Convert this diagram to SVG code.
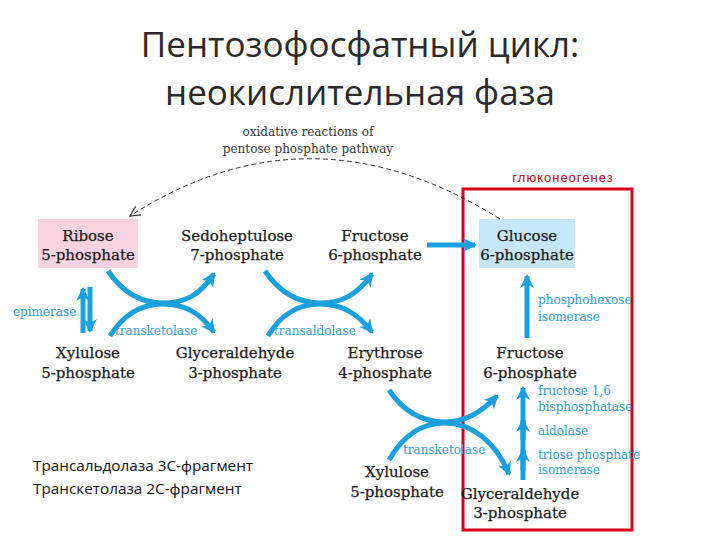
<svg xmlns="http://www.w3.org/2000/svg" width="720" height="540" viewBox="0 0 720 540">
<style>
.title{font-family:"Open Sans","Noto Sans",sans-serif;font-size:35px;fill:#2a2a2a;text-anchor:middle}
.n{font-family:"DejaVu Serif","Liberation Serif",serif;font-size:15px;fill:#1a1a1a;stroke:#1a1a1a;stroke-width:0.25;text-anchor:middle}
.e{font-family:"DejaVu Serif","Liberation Serif",serif;font-size:12px;fill:#2a9ed8}
.ox{font-family:"DejaVu Serif","Liberation Serif",serif;font-size:12px;fill:#333;text-anchor:middle}
.ru{font-family:"Open Sans","Noto Sans",sans-serif;font-size:15.3px;fill:#111}
.c{fill:none;stroke:#1aa0dc;stroke-width:5;stroke-linecap:butt}
</style>
<defs>
<marker id="ah" markerUnits="userSpaceOnUse" markerWidth="16" markerHeight="14" refX="12" refY="7" orient="auto">
<path d="M0,0 L14,7 L0,14 L4,7 Z" fill="#1aa0dc"/>
</marker>
<marker id="dh" markerUnits="userSpaceOnUse" markerWidth="12" markerHeight="12" refX="10" refY="6" orient="auto">
<path d="M0,1 L10,6 L0,11" fill="none" stroke="#333" stroke-width="1.2"/>
</marker>
</defs>
<rect width="720" height="540" fill="#fff"/>
<text class="title" x="360" y="57">Пентозофосфатный цикл:</text>
<text class="title" x="360" y="105">неокислительная фаза</text>
<text class="ox" x="308" y="136">oxidative reactions of</text>
<text class="ox" x="308" y="153">pentose phosphate pathway</text>
<g id="red-box">
<rect x="463" y="189" width="169" height="341" fill="none" stroke="#d8001a" stroke-width="3"/>
<text x="563" y="182" font-family="Liberation Sans,Arial,sans-serif" font-size="13" letter-spacing="1" fill="#c0001a" text-anchor="middle">глюконеогенез</text>
</g>
<g id="ribose"><rect x="38" y="219" width="100" height="49" fill="#f9d3df"/><text class="n" x="88" y="241">Ribose</text><text class="n" x="88" y="260">5-phosphate</text></g>
<g id="sedoheptulose"><text class="n" x="237" y="241">Sedoheptulose</text><text class="n" x="237" y="260">7-phosphate</text></g>
<g id="fructose6p-top"><text class="n" x="375" y="241">Fructose</text><text class="n" x="375" y="260">6-phosphate</text></g>
<g id="glucose"><rect x="479" y="219" width="96" height="49" fill="#c6e7f7"/><text class="n" x="527" y="241">Glucose</text><text class="n" x="527" y="260">6-phosphate</text></g>
<g id="xylulose1"><text class="n" x="88" y="358">Xylulose</text><text class="n" x="88" y="378">5-phosphate</text></g>
<g id="glyceraldehyde1"><text class="n" x="235" y="358">Glyceraldehyde</text><text class="n" x="235" y="378">3-phosphate</text></g>
<g id="erythrose"><text class="n" x="385" y="358">Erythrose</text><text class="n" x="385" y="378">4-phosphate</text></g>
<g id="fructose6p"><text class="n" x="530" y="358">Fructose</text><text class="n" x="530" y="378">6-phosphate</text></g>
<g id="xylulose2"><text class="n" x="397" y="477">Xylulose</text><text class="n" x="397" y="497">5-phosphate</text></g>
<g id="glyceraldehyde2"><text class="n" x="520" y="499">Glyceraldehyde</text><text class="n" x="520" y="518">3-phosphate</text></g>
<g id="connectors">
<path d="M500,219 Q310,100 130,216" fill="none" stroke="#333" stroke-width="1" stroke-dasharray="5,3" marker-end="url(#dh)"/>
<line class="c" x1="427" y1="245" x2="475" y2="245" marker-end="url(#ah)"/>
<line class="c" x1="83" y1="333" x2="83" y2="289" stroke-width="4" marker-end="url(#ah)"/>
<line class="c" x1="90" y1="287" x2="90" y2="331" stroke-width="4" marker-end="url(#ah)"/>
<path class="c" d="M108,271 C125,296 145,303 163,303 C185,303 200,295 214,274" marker-end="url(#ah)"/>
<path class="c" d="M110,336 C125,312 145,304 163,304 C185,304 200,313 214,332" marker-end="url(#ah)"/>
<path class="c" d="M265,271 C282,296 302,303 320,303 C342,303 357,295 372,274" marker-end="url(#ah)"/>
<path class="c" d="M268,336 C282,312 302,304 320,304 C342,304 357,313 372,332" marker-end="url(#ah)"/>
<path class="c" d="M389,390 C405,414 425,422 445,422 C465,422 482,412 497,396" marker-end="url(#ah)"/>
<path class="c" d="M389,460 C405,432 425,423 445,423 C470,423 495,440 509,474" marker-end="url(#ah)"/>
<line class="c" x1="527" y1="338" x2="527" y2="276" marker-end="url(#ah)"/>
<line class="c" x1="523" y1="480" x2="523" y2="388" marker-end="url(#ah)"/>
<line class="c" x1="523" y1="470" x2="523" y2="450" marker-end="url(#ah)"/>
<line class="c" x1="523" y1="440" x2="523" y2="420" marker-end="url(#ah)"/>
</g>
<g id="labels">
<text class="e" x="13" y="316">epimerase</text>
<text class="e" x="115" y="335">transketolase</text>
<text class="e" x="274" y="335">transaldolase</text>
<text class="e" x="403" y="454">transketolase</text>
<text class="e" x="538" y="304">phosphohexose</text>
<text class="e" x="538" y="321">isomerase</text>
<text class="e" x="538" y="395">fructose 1,6</text>
<text class="e" x="538" y="411">bisphosphatase</text>
<text class="e" x="538" y="435">aldolase</text>
<text class="e" x="538" y="459">triose phosphate</text>
<text class="e" x="538" y="474">isomerase</text>
</g>
<text class="ru" x="33" y="471">Трансальдолаза 3С-фрагмент</text>
<text class="ru" x="33" y="494">Транскетолаза 2С-фрагмент</text>
</svg>
